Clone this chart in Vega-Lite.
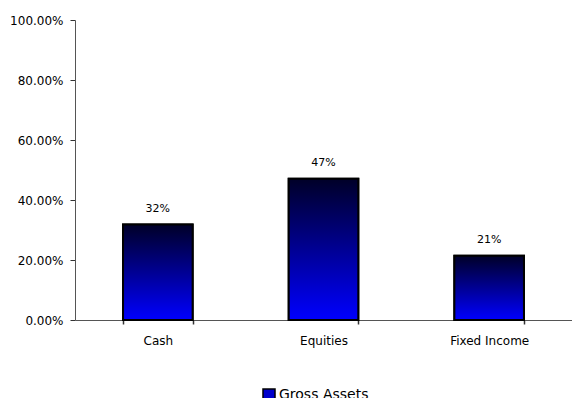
{
  "$schema": "https://vega.github.io/schema/vega-lite/v6.json",
  "autosize": "none",
  "width": 497,
  "height": 300,
  "padding": {"left": 75, "top": 20, "right": 0, "bottom": 78},
  "background": "white",
  "config": {"view": {"stroke": null}, "font": "DejaVu Sans"},
  "data": {"values": [
    {"category": "Cash", "value": 0.318, "series": "Gross Assets"},
    {"category": "Equities", "value": 0.471, "series": "Gross Assets"},
    {"category": "Fixed Income", "value": 0.214, "series": "Gross Assets"}
  ]},
  "encoding": {
    "x": {"field": "category", "type": "nominal", "sort": null,
      "scale": {"paddingInner": 0.58, "paddingOuter": 0.29},
      "axis": {"title": null, "labelAngle": 0, "labelFontSize": 12, "labelColor": "#000", "labelPadding": 11,
        "tickBand": "extent", "tickSize": 4, "tickWidth": 1.5, "domainColor": "#555", "tickColor": "#333"}},
    "y": {"field": "value", "type": "quantitative",
      "scale": {"domain": [0, 1], "nice": false},
      "axis": {"title": null, "format": ".2%", "values": [0, 0.2, 0.4, 0.6, 0.8, 1], "grid": false,
        "labelFontSize": 12, "labelColor": "#000", "tickSize": 5, "labelPadding": 7,
        "domainColor": "#555", "tickColor": "#333"}}
  },
  "layer": [
    {
      "mark": {"type": "bar", "stroke": "black", "strokeWidth": 2},
      "encoding": {
        "fill": {"field": "series", "type": "nominal",
          "scale": {"range": ["#0000cc"]},
          "legend": {"title": null, "orient": "none", "legendX": 187, "legendY": 368,
            "symbolType": "square", "symbolSize": 144, "symbolStrokeColor": "black", "symbolStrokeWidth": 1.5,
            "labelFontSize": 14, "labelColor": "#000", "labelOffset": 3}}
      }
    },
    {
      "mark": {"type": "bar", "stroke": "black", "strokeWidth": 2,
        "fill": {"gradient": "linear", "x1": 0, "y1": 0, "x2": 0, "y2": 1,
          "stops": [{"offset": 0, "color": "#000028"}, {"offset": 1, "color": "#0000ff"}]}}
    },
    {
      "mark": {"type": "text", "dy": -11, "fontSize": 11, "color": "#000", "baseline": "bottom"},
      "encoding": {"text": {"field": "value", "type": "quantitative", "format": ".0%"}}
    }
  ]
}
